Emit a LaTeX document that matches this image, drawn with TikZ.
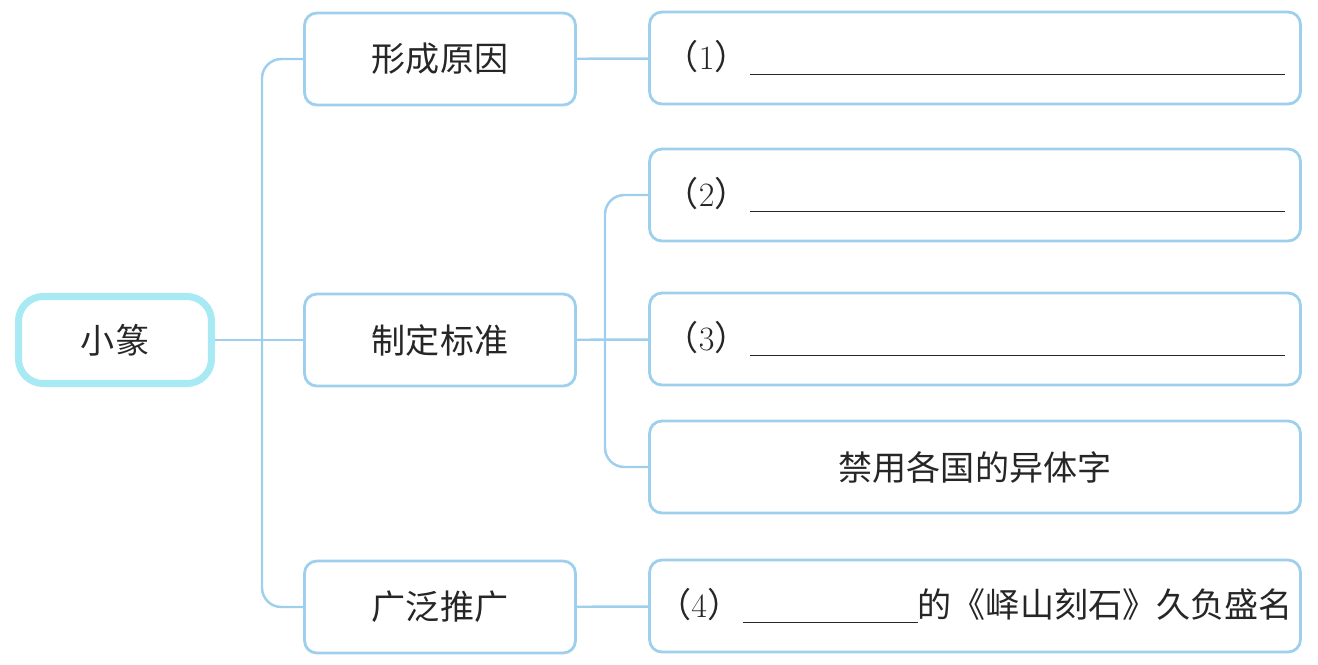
\documentclass[tikz,border=0pt]{standalone}
\usepackage{fontspec}
\newfontfamily\cjk{Noto Sans CJK SC}
\usetikzlibrary{positioning}
\definecolor{boxblue}{RGB}{158,208,238}
\definecolor{rootcyan}{RGB}{168,234,244}
\newcommand\blank[1]{\rule[-3pt]{#1}{0.7pt}}
\newcommand\num[1]{（\textrm{#1}）}
\tikzset{
  rootbox/.style={draw=rootcyan,line width=4pt,rounded corners=14pt,
    minimum width=3.86cm,minimum height=1.74cm},
  midbox/.style={draw=boxblue,line width=1.6pt,rounded corners=7pt,
    minimum width=5.42cm,minimum height=1.84cm},
  leafbox/.style={midbox,minimum width=13.02cm,inner xsep=2pt},
  link/.style={draw=boxblue,line width=1.4pt,rounded corners=11pt}
}
\begin{document}
\begin{tikzpicture}[x=0.02cm,y=-0.02cm,
  every node/.style={font=\cjk\fontsize{19.4}{23}\selectfont,text=black!85}]
  \useasboundingbox (0,0) rectangle (1318,664);
  % root
  \node[rootbox] (root) at (115,340) {小篆};
  % middle
  \node[midbox] (yuan) at (440,59) {形成原因};
  \node[midbox] (biao) at (440,340) {制定标准};
  \node[midbox] (tui) at (440,607) {广泛推广};
  % right
  \node[leafbox] (q1) at (975,58) {\num{1}\hspace{1pt}\blank{10.7cm}};
  \node[leafbox] (q2) at (975,195) {\num{2}\hspace{1pt}\blank{10.7cm}};
  \node[leafbox] (q3) at (975,339) {\num{3}\hspace{1pt}\blank{10.7cm}};
  \node[leafbox] (jin) at (975,467) {禁用各国的异体字};
  \node[leafbox] (q4) at (975,606) {\num{4}\hspace{1pt}\blank{3.5cm}的《峄山刻石》久负盛名};
  % links
  \coordinate (fork1) at (262,340);
  \coordinate (fork2) at (605,340);
  \draw[link] (yuan.west) -| (fork1) |- (tui.west);
  \draw[link] (root) -- (biao);
  \draw[link] (yuan) -- (q1);
  \draw[link] (tui) -- (q4);
  \draw[link] (q2.west) -| (fork2) |- (jin.west);
  \draw[link] (biao) -- (q3);
\end{tikzpicture}
\end{document}
